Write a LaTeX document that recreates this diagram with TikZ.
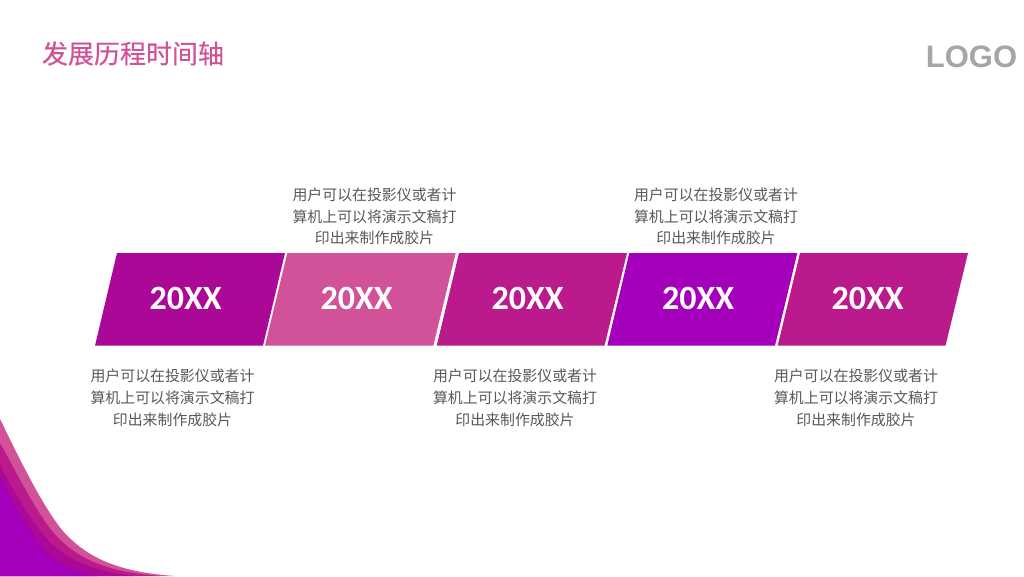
\documentclass[tikz,border=0pt]{standalone}
\usepackage{fontspec}
\setmainfont{Liberation Sans}
\newfontfamily\cjk{Noto Sans CJK SC}
\newfontfamily\cjkheavy[FakeBold=0.45]{Noto Sans CJK SC}
\newfontfamily\yearfont{Carlito}
\definecolor{cPlum}{HTML}{AB0897}
\definecolor{cPink}{HTML}{D15298}
\definecolor{cMagenta}{HTML}{BB1A8C}
\definecolor{cViolet}{HTML}{A400BC}
\definecolor{cText}{HTML}{595959}
\definecolor{cLogo}{HTML}{A6A6A6}
\tikzset{
  desc/.style={font=\cjk\fontsize{14.9}{21.7}\selectfont, text=cText, align=center, inner sep=0pt},
  year/.style={font=\yearfont\bfseries\fontsize{34}{36}\selectfont, text=white, inner sep=0pt},
}
\newcommand{\para}[5]{\fill[#1] (#2,253) -- (#3,253) -- (#5,345.7) -- (#4,345.7) -- cycle;}
\begin{document}
\begin{tikzpicture}[x=1pt,y=-1pt]
\useasboundingbox (0,0) rectangle (1024,576);
\fill[white] (0,0) rectangle (1024,576);
% corner waves
\fill[cPink] (0,419) .. controls (20,460) and (42,505) .. (62,530) .. controls (85,556) and (115,572) .. (175,576) -- (0,576) -- cycle;
\fill[cMagenta] (0,443) .. controls (17,473) and (32,505) .. (52,531) .. controls (75,558) and (105,572) .. (160,576) -- (0,576) -- cycle;
\fill[cPlum] (0,465) .. controls (14,492) and (28,516) .. (45,537) .. controls (65,560) and (95,572) .. (135,576) -- (0,576) -- cycle;
\fill[cViolet] (0,478) .. controls (10,497) and (24,523) .. (40,545) .. controls (55,563) and (75,572) .. (97,576) -- (0,576) -- cycle;
% title and logo
\node[font=\cjkheavy\fontsize{26}{30}\selectfont, text=cPink, inner sep=0pt] (title) at (133,53.5) {发展历程时间轴};
\node[font=\bfseries\fontsize{31}{34}\selectfont, text=cLogo, inner sep=0pt] (logo) at (971.5,56.5) {LOGO};
% bands
\para{cPlum}{117}{285}{95}{263}
\para{cPink}{287.3}{455.7}{265}{433.3}
\para{cMagenta}{459}{627}{436.7}{604.5}
\para{cViolet}{629.3}{797.3}{607.3}{775}
\para{cMagenta}{800}{968}{777.7}{945.5}
\node[year] (y1) at (185.5,298.5) {20XX};
\node[year] (y2) at (356.5,298.5) {20XX};
\node[year] (y3) at (527.5,298.5) {20XX};
\node[year] (y4) at (698,298.5) {20XX};
\node[year] (y5) at (867.5,298.5) {20XX};
% descriptions
\node[desc] (d1) at (172.5,398) {用户可以在投影仪或者计\\算机上可以将演示文稿打\\印出来制作成胶片};
\node[desc] (d2) at (374.5,216.5) {用户可以在投影仪或者计\\算机上可以将演示文稿打\\印出来制作成胶片};
\node[desc] (d3) at (515,398) {用户可以在投影仪或者计\\算机上可以将演示文稿打\\印出来制作成胶片};
\node[desc] (d4) at (716,216.5) {用户可以在投影仪或者计\\算机上可以将演示文稿打\\印出来制作成胶片};
\node[desc] (d5) at (856,398) {用户可以在投影仪或者计\\算机上可以将演示文稿打\\印出来制作成胶片};
\end{tikzpicture}
\end{document}
